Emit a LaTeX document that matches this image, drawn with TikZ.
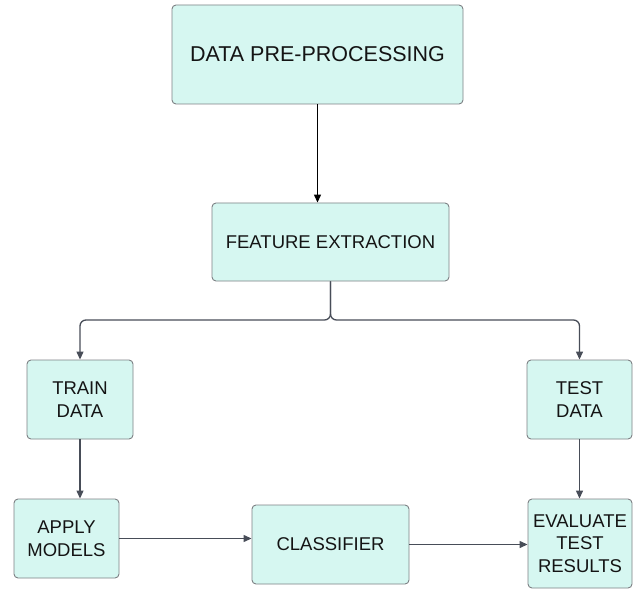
\documentclass[tikz,border=0pt]{standalone}
\usepackage{fontspec}
\setmainfont{Liberation Sans}
\usepackage{xcolor}
\usepackage{tikz}
\usetikzlibrary{positioning,arrows.meta,calc}
\definecolor{boxfill}{RGB}{214,247,241}
\definecolor{boxdraw}{RGB}{125,128,132}
\definecolor{linkc}{RGB}{72,77,88}
\definecolor{txtc}{RGB}{20,20,20}
\tikzset{
  stage/.style={rectangle, draw=boxdraw, fill=boxfill, line width=0.9pt,
                rounded corners=4pt, inner sep=0pt, align=center, text=txtc,
                font=\fontsize{18.5}{22.5}\selectfont},
  bigstage/.style={stage, font=\fontsize{21.5}{25}\selectfont},
  flow/.style={-{Triangle[length=8pt,width=7pt]}, line width=1.3pt, linkc},
  flowdark/.style={flow, black}
}
\begin{document}
\begin{tikzpicture}[x=1pt, y=-1pt]
\useasboundingbox (0,0) rectangle (635,591);
\node (pre) [bigstage, minimum width=291pt, minimum height=99pt] at (317.5,54.5) {DATA PRE-PROCESSING};
\node (feat) [stage, minimum width=237pt, minimum height=78pt] at (330.5,242) {FEATURE EXTRACTION};
\node (train) [stage, minimum width=106pt, minimum height=79pt] at (80,399.5) {TRAIN\\DATA};
\node (test) [stage, minimum width=105pt, minimum height=79pt] at (579.5,399.5) {TEST\\DATA};
\node (apply) [stage, minimum width=105pt, minimum height=79pt] at (66.5,538.5) {APPLY\\MODELS};
\node (cls) [stage, minimum width=157pt, minimum height=79pt] at (330.5,544.5) {CLASSIFIER};
\node (eval) [stage, minimum width=104pt, minimum height=89pt] at (580,543.5) {EVALUATE\\TEST\\RESULTS};
\coordinate (split) at (330.5,320);
% links
\draw[flowdark] (pre.south) -- (pre.south |- feat.north);
\draw[flow, rounded corners=6pt] (feat.south) -- (split) -| (train.north);
\draw[flow, rounded corners=6pt] (feat.south) -- (split) -| (test.north);
\draw[flow] (train.south) -- (train.south |- apply.north);
\draw[flow] (test.south) -- (test.south |- eval.north);
\draw[flow] (apply.east) -- (apply.east -| cls.west);
\draw[flow] (cls.east) -- (cls.east -| eval.west);
\end{tikzpicture}
\end{document}
